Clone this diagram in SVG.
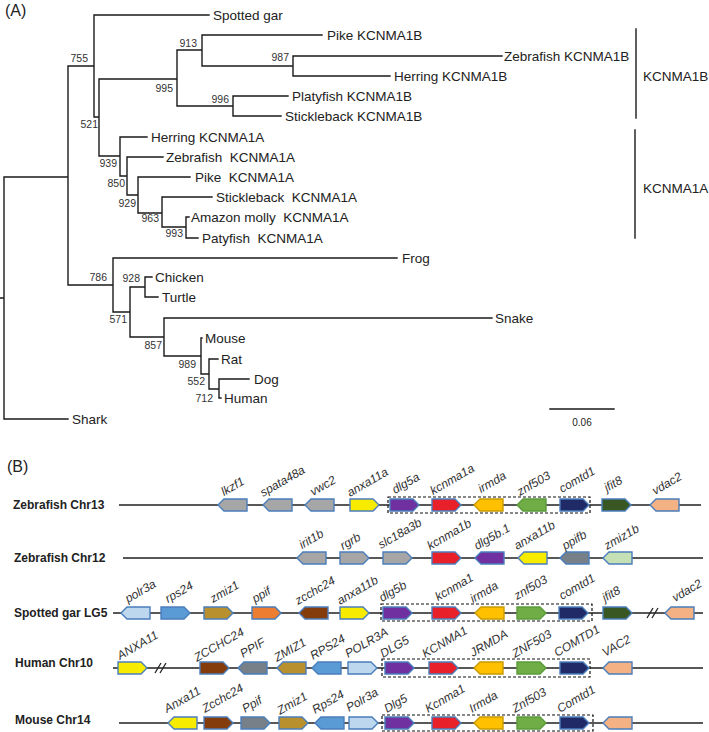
<svg xmlns="http://www.w3.org/2000/svg" xmlns:xlink="http://www.w3.org/1999/xlink" width="709" height="732" viewBox="0 0 709 732">
<style>
.br{stroke:#1a1a1a;stroke-width:1.4;fill:none;stroke-linecap:square}
.t{font-family:"Liberation Sans",Arial,sans-serif;fill:#222;white-space:pre}
.lf{font-size:13.5px}
.bs{font-size:10.5px;text-anchor:end;fill:#333}
.pl{font-size:16px}
.cl{font-size:12px;font-weight:bold}
.gt{font-family:"Liberation Sans",Arial,sans-serif;font-style:italic;font-size:12px;fill:#333}
.chr{stroke:#222;stroke-width:1.6;fill:none}
.box{fill:none;stroke:#111;stroke-width:1.2;stroke-dasharray:3 2}
.brk{stroke:#222;stroke-width:1.3;fill:none}
.g{stroke:#4a7ebb;stroke-width:1.4}
.gray{fill:#a6a6a6}
.yel{fill:#f7ec00}
.pur{fill:#7030a0}
.red{fill:#e8202a}
.gold{fill:#ffc000;stroke:#c99a00}
.grn{fill:#70ad47;stroke:#5a9a3a}
.navy{fill:#1f2a66}
.dkg{fill:#385723}
.pch{fill:#f4b183}
.slate{fill:#778089}
.lgr{fill:#c5e0b4}
.lbl{fill:#bdd7ee}
.blu{fill:#5b9bd5}
.olv{fill:#b8902e}
.org{fill:#ed7d31}
.brn{fill:#843c0c}
</style>
<defs>
<path id="ar" d="M0,-6 H23 L29,0 L23,6 H0 Z"/>
<path id="al" d="M29,-6 H6 L0,0 L6,6 H29 Z"/>
</defs>

<text class="t pl" x="5" y="16">(A)</text>

<g id="tree-connectors">
<path class="br" d="M0,298 H4 M4,177 V419 M4,177 H68 M4,419 H68 M68,66 V285 M68,66 H94 M94,15 V117 M94,15 H209 M94,117 H99 M99,79 V156 M99,79 H177 M177,50 V106 M177,50 H202 M202,35 V66 M202,35 H322 M202,66 H293 M293,56 V76 M293,56 H502 M293,76 H390 M177,106 H233 M233,96 V116 M233,96 H288 M233,116 H281 M99,156 H120 M120,137 V176 M120,137 H147 M120,176 H127 M127,157 V195 M127,157 H163 M127,195 H138 M138,177 V213 M138,177 H190 M138,213 H162 M162,197 V227 M162,197 H212 M162,227 H186 M186,217 V238 M186,217 H189 M186,238 H198 M68,285 H113 M113,258 V312 M113,258 H397 M113,312 H130 M130,287 V337 M130,287 H145 M145,277 V297 M145,277 H152 M145,297 H158 M130,337 H164 M164,318 V356 M164,318 H492 M164,356 H201 M201,338 V374 M201,338 H202 M201,374 H209 M209,359 V389 M209,359 H218 M209,389 H219 M219,379 V398 M219,379 H249 M219,398 H221"/>
<path class="br" d="M636,29 V118 M635,130 V238 M550,409 H614"/>
</g>

<g id="bootstrap">
<text class="t bs" x="88" y="62">755</text>
<text class="t bs" x="197" y="47">913</text>
<text class="t bs" x="289" y="61">987</text>
<text class="t bs" x="173" y="92">995</text>
<text class="t bs" x="229" y="103">996</text>
<text class="t bs" x="98" y="128">521</text>
<text class="t bs" x="117" y="167">939</text>
<text class="t bs" x="125" y="187">850</text>
<text class="t bs" x="136" y="207">929</text>
<text class="t bs" x="159" y="222">963</text>
<text class="t bs" x="183" y="237">993</text>
<text class="t bs" x="107" y="281">786</text>
<text class="t bs" x="140" y="282">928</text>
<text class="t bs" x="127" y="323">571</text>
<text class="t bs" x="162" y="349">857</text>
<text class="t bs" x="196" y="368">989</text>
<text class="t bs" x="205" y="385">552</text>
<text class="t bs" x="213" y="402">712</text>
</g>

<g id="leaf-spotted-gar"><text class="t lf" x="213" y="20">Spotted gar</text></g>
<g id="leaf-pike-b"><text class="t lf" x="327" y="40">Pike KCNMA1B</text></g>
<g id="leaf-zebrafish-b"><text class="t lf" x="504" y="61">Zebrafish KCNMA1B</text></g>
<g id="leaf-herring-b"><text class="t lf" x="394" y="81">Herring KCNMA1B</text></g>
<g id="leaf-platyfish-b"><text class="t lf" x="292" y="101">Platyfish KCNMA1B</text></g>
<g id="leaf-stickleback-b"><text class="t lf" x="285" y="121">Stickleback KCNMA1B</text></g>
<g id="leaf-herring-a"><text class="t lf" x="151" y="142">Herring KCNMA1A</text></g>
<g id="leaf-zebrafish-a"><text class="t lf" x="166" y="162">Zebrafish  KCNMA1A</text></g>
<g id="leaf-pike-a"><text class="t lf" x="195" y="182">Pike  KCNMA1A</text></g>
<g id="leaf-stickleback-a"><text class="t lf" x="216" y="202">Stickleback  KCNMA1A</text></g>
<g id="leaf-amazon-molly-a"><text class="t lf" x="191" y="222">Amazon molly  KCNMA1A</text></g>
<g id="leaf-patyfish-a"><text class="t lf" x="202" y="243">Patyfish  KCNMA1A</text></g>
<g id="leaf-frog"><text class="t lf" x="402" y="263">Frog</text></g>
<g id="leaf-chicken"><text class="t lf" x="155" y="282">Chicken</text></g>
<g id="leaf-turtle"><text class="t lf" x="162" y="302">Turtle</text></g>
<g id="leaf-snake"><text class="t lf" x="495" y="323">Snake</text></g>
<g id="leaf-mouse"><text class="t lf" x="205" y="343">Mouse</text></g>
<g id="leaf-rat"><text class="t lf" x="221" y="364">Rat</text></g>
<g id="leaf-dog"><text class="t lf" x="254" y="384">Dog</text></g>
<g id="leaf-human"><text class="t lf" x="224" y="403">Human</text></g>
<g id="leaf-shark"><text class="t lf" x="72" y="424">Shark</text></g>
<g id="clade-b"><text class="t lf" x="643" y="81">KCNMA1B</text></g>
<g id="clade-a"><text class="t lf" x="643" y="193">KCNMA1A</text></g>
<g id="scale"><text class="t" style="font-size:10px" x="582" y="426" text-anchor="middle">0.06</text></g>

<text class="t pl" x="7" y="472">(B)</text>

<g id="chromosome-lines">
<path class="chr" d="M119,505 H701 M123,558 H703 M113,613 H703 M113,668 H703 M119,723 H703"/>
<path class="brk" d="M647,618 L653,608 M652,618 L658,608 M155,673 L161,663 M160,673 L166,663"/>
<path class="box" d="M388,497 H590 V513 H388 Z M381,604 H592 V621 H381 Z M382,659 H590 V677 H382 Z M382,715 H593 V731 H382 Z"/>
</g>

<g id="row-zebrafish-chr13">
<text class="t cl" x="13" y="509">Zebrafish Chr13</text>
<g id="z13-lkzf1"><use href="#al" x="218" y="505" class="g gray"/><text class="gt" x="224" y="496" transform="rotate(-30,224,496)">lkzf1</text></g>
<g id="z13-spata48a"><use href="#al" x="263" y="505" class="g gray"/><text class="gt" x="263" y="497" transform="rotate(-30,263,497)">spata48a</text></g>
<g id="z13-vwc2"><use href="#al" x="305" y="505" class="g gray"/><text class="gt" x="313" y="496" transform="rotate(-30,313,496)">vwc2</text></g>
<g id="z13-anxa11a"><use href="#ar" x="350" y="505" class="g yel"/><text class="gt" x="350" y="497" transform="rotate(-30,350,497)">anxa11a</text></g>
<g id="z13-dlg5a"><use href="#ar" x="390" y="505" class="g pur"/><text class="gt" x="395" y="494" transform="rotate(-30,395,494)">dlg5a</text></g>
<g id="z13-kcnma1a"><use href="#ar" x="432" y="505" class="g red"/><text class="gt" x="433" y="495" transform="rotate(-30,433,495)">kcnma1a</text></g>
<g id="z13-irmda"><use href="#al" x="474" y="505" class="g gold"/><text class="gt" x="481" y="493" transform="rotate(-30,481,493)">irmda</text></g>
<g id="z13-znf503"><use href="#al" x="517" y="505" class="g grn"/><text class="gt" x="520" y="496" transform="rotate(-30,520,496)">znf503</text></g>
<g id="z13-comtd1"><use href="#ar" x="560" y="505" class="g navy"/><text class="gt" x="562" y="493" transform="rotate(-30,562,493)">comtd1</text></g>
<g id="z13-jfit8"><use href="#ar" x="602" y="505" class="g dkg"/><text class="gt" x="607" y="492" transform="rotate(-30,607,492)">jfit8</text></g>
<g id="z13-vdac2"><use href="#al" x="650" y="505" class="g pch"/><text class="gt" x="655" y="495" transform="rotate(-30,655,495)">vdac2</text></g>
</g>

<g id="row-zebrafish-chr12">
<text class="t cl" x="14" y="562">Zebrafish Chr12</text>
<g id="z12-irit1b"><use href="#al" x="297" y="558" class="g gray"/><text class="gt" x="302" y="549" transform="rotate(-30,302,549)">irit1b</text></g>
<g id="z12-rgrb"><use href="#ar" x="340" y="558" class="g gray"/><text class="gt" x="343" y="550" transform="rotate(-30,343,550)">rgrb</text></g>
<g id="z12-slc18a3b"><use href="#ar" x="383" y="558" class="g gray"/><text class="gt" x="381" y="549" transform="rotate(-30,381,549)">slc18a3b</text></g>
<g id="z12-kcnma1b"><use href="#ar" x="432" y="558" class="g red"/><text class="gt" x="430" y="550" transform="rotate(-30,430,550)">kcnma1b</text></g>
<g id="z12-dlg5b1"><use href="#al" x="475" y="558" class="g pur"/><text class="gt" x="477" y="550" transform="rotate(-30,477,550)">dlg5b.1</text></g>
<g id="z12-anxa11b"><use href="#al" x="518" y="558" class="g yel"/><text class="gt" x="517" y="550" transform="rotate(-30,517,550)">anxa11b</text></g>
<g id="z12-ppifb"><use href="#al" x="560" y="558" class="g slate"/><text class="gt" x="565" y="550" transform="rotate(-30,565,550)">ppifb</text></g>
<g id="z12-zmiz1b"><use href="#al" x="603" y="558" class="g lgr"/><text class="gt" x="607" y="550" transform="rotate(-30,607,550)">zmiz1b</text></g>
</g>

<g id="row-spotted-gar-lg5">
<text class="t cl" x="14" y="617">Spotted gar LG5</text>
<g id="sg-polr3a"><use href="#al" x="121" y="613" class="g lbl"/><text class="gt" x="128" y="603" transform="rotate(-30,128,603)">polr3a</text></g>
<g id="sg-rps24"><use href="#ar" x="161" y="613" class="g blu"/><text class="gt" x="168" y="603" transform="rotate(-30,168,603)">rps24</text></g>
<g id="sg-zmiz1"><use href="#ar" x="204" y="613" class="g olv"/><text class="gt" x="213" y="603" transform="rotate(-30,213,603)">zmiz1</text></g>
<g id="sg-ppif"><use href="#ar" x="252" y="613" class="g org"/><text class="gt" x="255" y="603" transform="rotate(-30,255,603)">ppif</text></g>
<g id="sg-zcchc24"><use href="#al" x="299" y="613" class="g brn"/><text class="gt" x="298" y="605" transform="rotate(-30,298,605)">zcchc24</text></g>
<g id="sg-anxa11b"><use href="#ar" x="340" y="613" class="g yel"/><text class="gt" x="340" y="605" transform="rotate(-30,340,605)">anxa11b</text></g>
<g id="sg-dlg5b"><use href="#ar" x="383" y="613" class="g pur"/><text class="gt" x="382" y="602" transform="rotate(-30,382,602)">dlg5b</text></g>
<g id="sg-kcnma1"><use href="#ar" x="432" y="613" class="g red"/><text class="gt" x="438" y="601" transform="rotate(-30,438,601)">kcnma1</text></g>
<g id="sg-irmda"><use href="#al" x="475" y="613" class="g gold"/><text class="gt" x="473" y="603" transform="rotate(-30,473,603)">irmda</text></g>
<g id="sg-znf503"><use href="#ar" x="517" y="613" class="g grn"/><text class="gt" x="517" y="600" transform="rotate(-30,517,600)">znf503</text></g>
<g id="sg-comtd1"><use href="#ar" x="559" y="613" class="g navy"/><text class="gt" x="562" y="600" transform="rotate(-30,562,600)">comtd1</text></g>
<g id="sg-jfit8"><use href="#ar" x="603" y="613" class="g dkg"/><text class="gt" x="605" y="602" transform="rotate(-30,605,602)">jfit8</text></g>
<g id="sg-vdac2"><use href="#al" x="665" y="613" class="g pch"/><text class="gt" x="675" y="602" transform="rotate(-30,675,602)">vdac2</text></g>
</g>

<g id="row-human-chr10">
<text class="t cl" x="15" y="667">Human Chr10</text>
<g id="hs-anxa11"><use href="#ar" x="118" y="668" class="g yel"/><text class="gt" x="120" y="660" transform="rotate(-30,120,660)">ANXA11</text></g>
<g id="hs-zcchc24"><use href="#ar" x="200" y="668" class="g brn"/><text class="gt" x="197" y="662" transform="rotate(-30,197,662)">ZCCHC24</text></g>
<g id="hs-ppif"><use href="#al" x="238" y="668" class="g slate"/><text class="gt" x="243" y="658" transform="rotate(-30,243,658)">PPIF</text></g>
<g id="hs-zmiz1"><use href="#al" x="277" y="668" class="g olv"/><text class="gt" x="277" y="662" transform="rotate(-30,277,662)">ZMIZ1</text></g>
<g id="hs-rps24"><use href="#al" x="312" y="668" class="g blu"/><text class="gt" x="313" y="660" transform="rotate(-30,313,660)">RPS24</text></g>
<g id="hs-polr3a"><use href="#ar" x="348" y="668" class="g lbl"/><text class="gt" x="348" y="658" transform="rotate(-30,348,658)">POLR3A</text></g>
<g id="hs-dlg5"><use href="#ar" x="385" y="668" class="g pur"/><text class="gt" x="383" y="658" transform="rotate(-30,383,658)">DLG5</text></g>
<g id="hs-kcnma1"><use href="#ar" x="429" y="668" class="g red"/><text class="gt" x="425" y="658" transform="rotate(-30,425,658)">KCNMA1</text></g>
<g id="hs-jrmda"><use href="#al" x="474" y="668" class="g gold"/><text class="gt" x="473" y="657" transform="rotate(-30,473,657)">JRMDA</text></g>
<g id="hs-znf503"><use href="#ar" x="517" y="668" class="g grn"/><text class="gt" x="515" y="658" transform="rotate(-30,515,658)">ZNF503</text></g>
<g id="hs-comtd1"><use href="#ar" x="560" y="668" class="g navy"/><text class="gt" x="557" y="657" transform="rotate(-30,557,657)">COMTD1</text></g>
<g id="hs-vac2"><use href="#al" x="603" y="668" class="g pch"/><text class="gt" x="605" y="657" transform="rotate(-30,605,657)">VAC2</text></g>
</g>

<g id="row-mouse-chr14">
<text class="t cl" x="15" y="724">Mouse Chr14</text>
<g id="mm-anxa11"><use href="#al" x="168" y="723" class="g yel"/><text class="gt" x="167" y="713" transform="rotate(-30,167,713)">Anxa11</text></g>
<g id="mm-zcchc24"><use href="#ar" x="204" y="723" class="g brn"/><text class="gt" x="205" y="713" transform="rotate(-30,205,713)">Zcchc24</text></g>
<g id="mm-ppif"><use href="#ar" x="241" y="723" class="g slate"/><text class="gt" x="245" y="713" transform="rotate(-30,245,713)">Ppif</text></g>
<g id="mm-zmiz1"><use href="#ar" x="279" y="723" class="g olv"/><text class="gt" x="280" y="715" transform="rotate(-30,280,715)">Zmiz1</text></g>
<g id="mm-rps24"><use href="#al" x="315" y="723" class="g blu"/><text class="gt" x="315" y="714" transform="rotate(-30,315,714)">Rps24</text></g>
<g id="mm-polr3a"><use href="#ar" x="349" y="723" class="g lbl"/><text class="gt" x="349" y="712" transform="rotate(-30,349,712)">Polr3a</text></g>
<g id="mm-dlg5"><use href="#ar" x="385" y="723" class="g pur"/><text class="gt" x="387" y="713" transform="rotate(-30,387,713)">Dlg5</text></g>
<g id="mm-kcnma1"><use href="#ar" x="432" y="723" class="g red"/><text class="gt" x="428" y="713" transform="rotate(-30,428,713)">Kcnma1</text></g>
<g id="mm-irmda"><use href="#al" x="474" y="723" class="g gold"/><text class="gt" x="472" y="713" transform="rotate(-30,472,713)">Irmda</text></g>
<g id="mm-znf503"><use href="#ar" x="517" y="723" class="g grn"/><text class="gt" x="515" y="713" transform="rotate(-30,515,713)">Znf503</text></g>
<g id="mm-comtd1"><use href="#ar" x="560" y="723" class="g navy"/><text class="gt" x="560" y="713" transform="rotate(-30,560,713)">Comtd1</text></g>
<g id="mm-vdac2"><use href="#al" x="603" y="723" class="g pch"/></g>
</g>
</svg>
